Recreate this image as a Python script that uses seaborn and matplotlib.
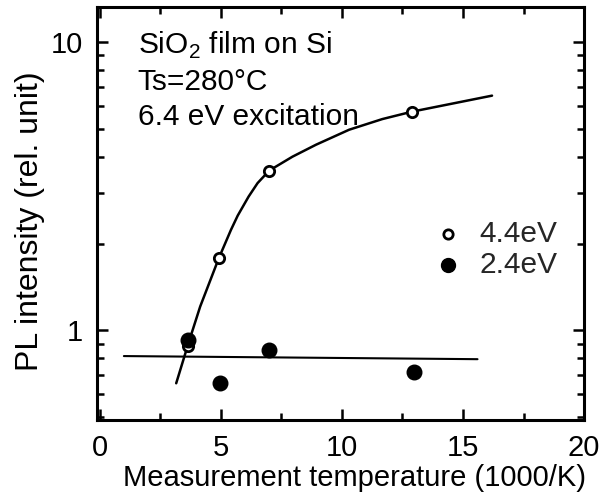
import numpy as np
import pandas as pd
import matplotlib
matplotlib.use("Agg")
import matplotlib.pyplot as plt
import seaborn as sns

# data
temp_44 = [3.66, 4.92, 7.0, 12.9]
pl_44 = [0.88, 1.78, 3.58, 5.73]

temp_24 = [3.66, 4.95, 6.98, 12.98]
pl_24 = [0.93, 0.655, 0.853, 0.72]

# hand-drawn guide curves
curve_x = [3.16, 3.66, 4.15, 4.92, 5.42, 5.70, 6.15, 6.52, 7.0,
           7.96, 8.93, 10.3, 11.67, 12.9, 16.2]
curve_y = [0.656, 0.90, 1.21, 1.78, 2.23, 2.50, 2.91, 3.24, 3.58,
           4.0, 4.40, 4.96, 5.40, 5.73, 6.51]
flat_x = [1.0, 15.6]
flat_y = [0.815, 0.795]

sns.set_style("ticks")
plt.rcParams["font.family"] = ["Liberation Sans", "DejaVu Sans"]
plt.rcParams["mathtext.fontset"] = "custom"
plt.rcParams["mathtext.rm"] = "Liberation Sans"

fig = plt.figure(figsize=(6.04, 5.04), dpi=100)
ax = fig.add_axes([0.161, 0.167, 0.806, 0.819])

sns.lineplot(x=curve_x, y=curve_y, color="black", lw=1.8, sort=False, ax=ax)
sns.lineplot(x=flat_x, y=flat_y, color="black", lw=1.5, sort=False, ax=ax)

ax.scatter(temp_44, pl_44, s=55, facecolors="white", edgecolors="black",
           linewidths=2, zorder=5)
ax.scatter(temp_24, pl_24, s=110, color="black", zorder=5)

ax.set_yscale("log")
ax.set_xlim(-0.1, 20)
ax.set_ylim(0.49, 13.2)
ax.set_xticks([0, 5, 10, 15, 20])
ax.set_xticks([2.5, 7.5, 12.5, 17.5], minor=True)
ax.set_yticks([1, 10])
ax.set_yticklabels(["1", "10"])
ax.tick_params(which="both", direction="in", top=True, right=True,
               labelsize=21, width=1.8, color="black", labelcolor="black")
ax.tick_params(which="major", length=8, pad=10)
ax.tick_params(which="minor", length=5)
for sp in ax.spines.values():
    sp.set_visible(True)
    sp.set_linewidth(2.2)
    sp.set_color("black")

ax.set_xlabel("Measurement temperature (1000/K)", fontsize=21, color="black")
ax.set_ylabel("PL intensity (rel. unit)", fontsize=23, color="black")
ax.xaxis.set_label_coords(0.528, -0.107)
ax.yaxis.set_label_coords(-0.107, 0.482)

ax.text(0.083, 0.945, "SiO$_2$ film on Si\nTs=280°C\n6.4 eV excitation",
        transform=ax.transAxes, fontsize=21.5, va="top", ha="left",
        linespacing=1.32, color="black")

h1 = ax.scatter([], [], s=45, facecolors="white", edgecolors="black", linewidths=2)
h2 = ax.scatter([], [], s=100, color="black")
ax.legend([h1, h2], ["4.4eV", "2.4eV"], loc="upper left",
          bbox_to_anchor=(0.659, 0.514), frameon=False, fontsize=21.5,
          handlelength=1.2, handletextpad=0.45, labelspacing=0.12,
          borderaxespad=0)

fig.savefig("out.png", dpi=100)
